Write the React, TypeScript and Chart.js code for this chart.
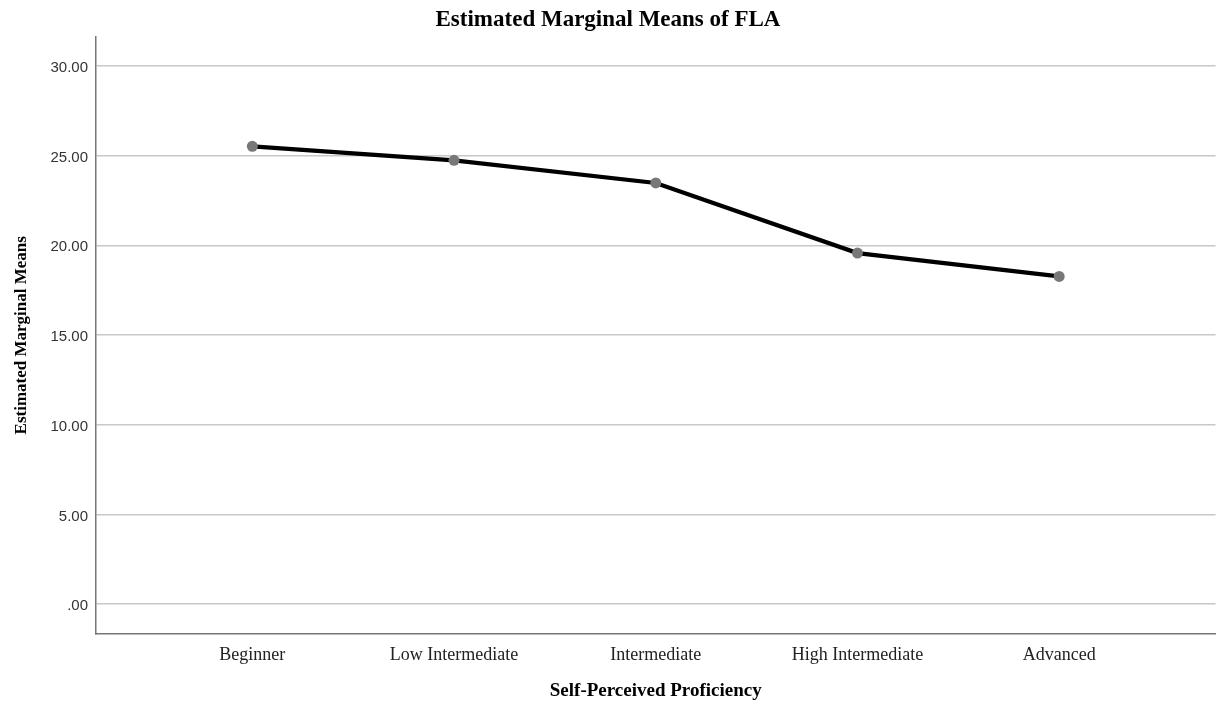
import React, { useEffect, useRef } from "react";
import { Chart, registerables } from "chart.js";

Chart.register(...registerables);

const categories = ["Beginner", "Low Intermediate", "Intermediate", "High Intermediate", "Advanced"];
const means = [25.52, 24.74, 23.48, 19.57, 18.27];
const yTickValues = [0, 5, 10, 15, 20, 25, 30];
const yTickLabels = [".00", "5.00", "10.00", "15.00", "20.00", "25.00", "30.00"];

export default function App() {
  const ref = useRef<HTMLCanvasElement | null>(null);

  useEffect(() => {
    if (!ref.current) return;
    const chart = new Chart(ref.current, {
      type: "line",
      data: {
        datasets: [
          {
            data: categories.map((_, i) => ({ x: i, y: means[i] })),
            borderColor: "#000000",
            borderWidth: 4.2,
            pointRadius: 5.5,
            pointBackgroundColor: "#787878",
            pointBorderColor: "#787878",
            pointBorderWidth: 0,
            tension: 0,
            fill: false,
          },
        ],
      },
      options: {
        responsive: false,
        animation: false,
        layout: { padding: { left: 0, right: 5, top: 0, bottom: 0 } },
        plugins: {
          legend: { display: false },
          tooltip: { enabled: false },
          title: {
            display: true,
            text: "Estimated Marginal Means of FLA",
            color: "#000000",
            font: { family: "'Liberation Serif', serif", size: 23, weight: "bold" },
            padding: { top: 6, bottom: 3 },
          },
        },
        scales: {
          x: {
            type: "linear",
            min: -0.775,
            max: 4.775,
            afterBuildTicks: (scale: any) => {
              scale.ticks = categories.map((_, i) => ({ value: i }));
            },
            afterFit: (scale: any) => {
              scale.height = 72;
            },
            ticks: {
              callback: (v: any) => categories[Number(v)] ?? "",
              color: "#222222",
              font: { family: "'Liberation Serif', serif", size: 18 },
              padding: 10,
              maxRotation: 0,
              autoSkip: false,
            },
            grid: { display: false, drawTicks: false },
            border: { display: true, color: "#777777", width: 1.5 },
            title: {
              display: true,
              text: "Self-Perceived Proficiency",
              color: "#000000",
              font: { family: "'Liberation Serif', serif", size: 19, weight: "bold" },
              padding: { top: 0, bottom: 4 },
            },
          },
          y: {
            type: "linear",
            min: -1.67,
            max: 31.64,
            afterBuildTicks: (scale: any) => {
              scale.ticks = yTickValues.map((v) => ({ value: v }));
            },
            afterFit: (scale: any) => {
              scale.width = 96;
            },
            ticks: {
              callback: (v: any) => {
                const idx = yTickValues.indexOf(Number(v));
                return idx >= 0 ? yTickLabels[idx] : "";
              },
              color: "#333333",
              font: { family: "'Liberation Sans', Arial, sans-serif", size: 15 },
              padding: 8,
              labelOffset: 2,
            },
            grid: { color: "#c8c8c8", lineWidth: 1.5, drawTicks: false },
            border: { display: true, color: "#777777", width: 1.5 },
            title: {
              display: true,
              text: "Estimated Marginal Means",
              color: "#000000",
              font: { family: "'Liberation Serif', serif", size: 17, weight: "bold" },
              padding: { top: 11, bottom: 0 },
            },
          },
        },
      },
    });
    return () => chart.destroy();
  }, []);

  return (
    <div style={{ position: "absolute", left: 0, top: 0, width: 1221, height: 706, background: "#ffffff" }}>
      <canvas ref={ref} width={1221} height={706} />
    </div>
  );
}
